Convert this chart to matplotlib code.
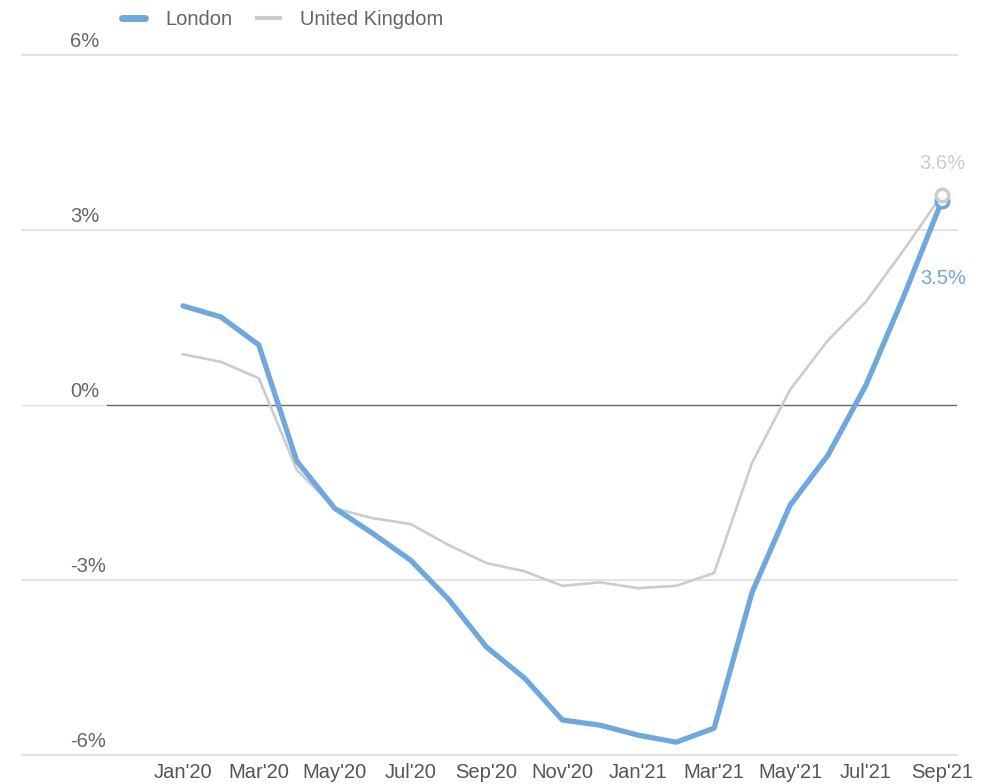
import matplotlib.pyplot as plt
import matplotlib.transforms as mtransforms

months = ["Jan'20", "Feb'20", "Mar'20", "Apr'20", "May'20", "Jun'20", "Jul'20",
          "Aug'20", "Sep'20", "Oct'20", "Nov'20", "Dec'20", "Jan'21", "Feb'21",
          "Mar'21", "Apr'21", "May'21", "Jun'21", "Jul'21", "Aug'21", "Sep'21"]
london = [1.70, 1.51, 1.03, -0.96, -1.77, -2.20, -2.66, -3.33, -4.15, -4.68, -5.40,
          -5.49, -5.66, -5.78, -5.54, -3.21, -1.72, -0.86, 0.34, 1.87, 3.5]
uk = [0.87, 0.74, 0.46, -1.11, -1.77, -1.94, -2.04, -2.40, -2.71, -2.85, -3.10,
      -3.04, -3.14, -3.10, -2.88, -0.99, 0.26, 1.11, 1.77, 2.66, 3.6]
y_ticks = [6, 3, 0, -3, -6]

BLUE = '#6fa8dc'
GREY = '#cccccc'
TEXT = '#666666'
FS = 14.5

plt.rcParams['font.family'] = ['Liberation Sans', 'DejaVu Sans']

fig = plt.figure(figsize=(9.92, 7.84), dpi=100)
ax = fig.add_axes([22 / 992, 29 / 784, 935 / 992, 700 / 784])
x = list(range(len(months)))

x0, x1 = -4.24, 20.4
ax.set_xlim(x0, x1)
ax.set_ylim(-6, 6)
for s in ax.spines.values():
    s.set_visible(False)

# gridlines and zero line
trans = mtransforms.blended_transform_factory(ax.transAxes, ax.transData)
for v in y_ticks:
    if v == 0:
        ax.axhline(0, xmax=(-2 - x0) / (x1 - x0), color='#e0e0e0', lw=1, zorder=1)
        ax.axhline(0, xmin=(-2 - x0) / (x1 - x0), color='#666666', lw=1, zorder=2)
    else:
        ax.axhline(v, color='#dddddd', lw=1.2, zorder=1, clip_on=False)
    ax.annotate(f'{v}%', xy=(48 / 935, v), xycoords=trans, xytext=(0, 3),
                textcoords='offset points', ha='left', va='bottom',
                fontsize=FS, color=TEXT)

ax.plot(x, uk, color=GREY, lw=1.9, zorder=3, label='United Kingdom', solid_joinstyle='round')
ax.plot(x, london, color=BLUE, lw=3.8, zorder=4, label='London', solid_joinstyle='round',
        solid_capstyle='round')

# end markers and labels
ax.plot(x[-1], london[-1], 'o', ms=9, mfc='white', mec=BLUE, mew=2.5, zorder=5, clip_on=False)
ax.plot(x[-1], uk[-1], 'o', ms=9, mfc='white', mec=GREY, mew=2.5, zorder=6, clip_on=False)
ax.annotate(f'{uk[-1]}%', xy=(x[-1], uk[-1]), xytext=(0, 16), textcoords='offset points',
            ha='center', va='bottom', fontsize=FS, color=GREY)
ax.annotate(f'{london[-1]}%', xy=(x[-1], london[-1]), xytext=(1, -56), textcoords='offset points',
            ha='center', va='center', fontsize=FS, color=BLUE)

ax.set_yticks([])
ax.set_xticks(x[::2])
ax.set_xticklabels(months[::2], fontsize=FS, color='#555555')
ax.tick_params(axis='x', length=0, pad=6)

# legend
handles, labels = ax.get_legend_handles_labels()
leg = fig.legend(handles[::-1], labels[::-1], loc='upper left', bbox_to_anchor=(104 / 992, 1.01),
                 ncol=2, frameon=False, fontsize=FS, handlelength=1.15, columnspacing=1.2,
                 handletextpad=1.0, labelcolor=TEXT)
for h in leg.get_lines():
    h.set_linewidth(5 if h.get_color() == BLUE else 3)

fig.savefig('out.png', dpi=100)
